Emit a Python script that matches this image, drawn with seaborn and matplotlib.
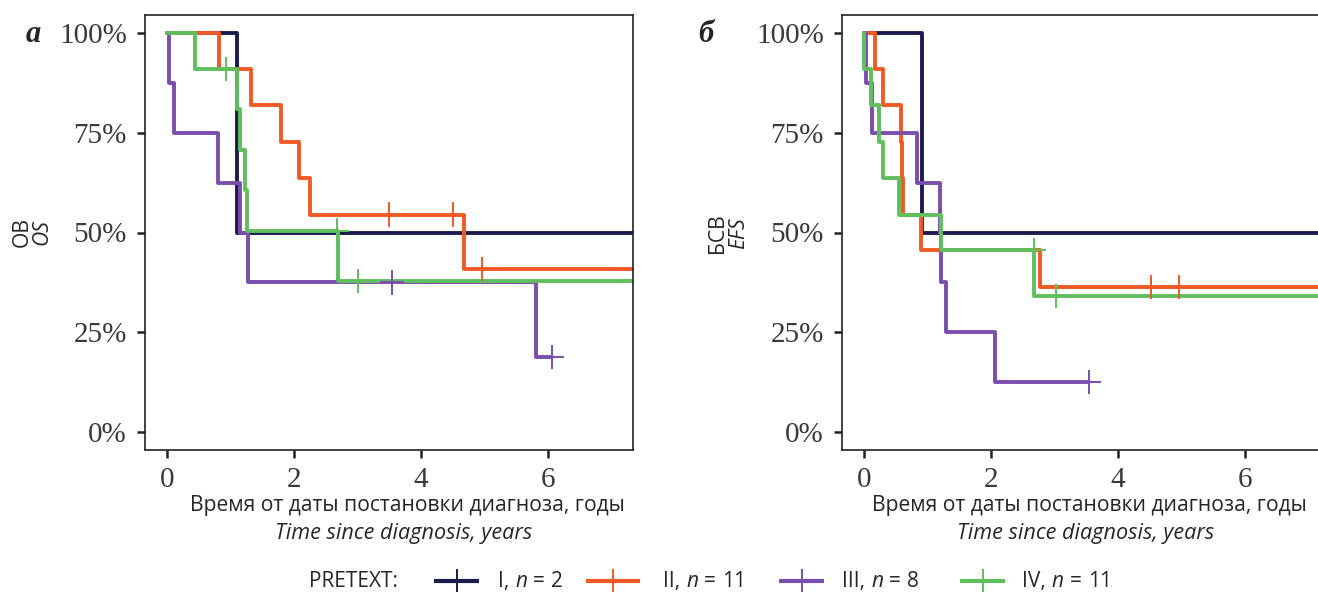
import matplotlib
matplotlib.use("Agg")
import matplotlib.pyplot as plt
from matplotlib.lines import Line2D
import pandas as pd
import seaborn as sns

groups = ["I", "II", "III", "IV"]
group_n = [2, 11, 8, 11]
colors = ["#1c1b4f", "#f05a24", "#7b4eae", "#5ebf5c"]

# overall survival (ОВ / OS): step points, time in years, survival in %
os_group = ["I"] * 3 + ["II"] * 8 + ["III"] * 8 + ["IV"] * 8
os_time = [0, 1.10, 7.6,
           0, 0.83, 1.33, 1.79, 2.08, 2.25, 4.68, 7.6,
           0, 0.03, 0.12, 0.81, 1.15, 1.28, 5.81, 6.06,
           0, 0.44, 1.10, 1.15, 1.23, 1.26, 2.69, 7.6]
os_surv = [100, 50, 50,
           100, 90.9, 81.8, 72.7, 63.6, 54.5, 40.9, 40.9,
           100, 87.5, 75, 62.5, 50, 37.5, 18.75, 18.75,
           100, 90.9, 80.8, 70.7, 60.6, 50.5, 37.9, 37.9]
# censored observations
os_cens_group = ["II", "II", "II", "III", "III", "IV", "IV", "IV"]
os_cens_time = [3.49, 4.50, 4.95, 3.54, 6.06, 0.93, 2.67, 3.01]
os_cens_surv = [54.5, 54.5, 40.9, 37.5, 18.75, 90.9, 50.5, 37.9]

# event-free survival (БСВ / EFS)
efs_group = ["I"] * 3 + ["II"] * 9 + ["III"] * 9 + ["IV"] * 9
efs_time = [0, 0.915, 7.6,
            0, 0.18, 0.30, 0.585, 0.60, 0.62, 0.90, 2.77, 7.6,
            0, 0.036, 0.125, 0.84, 1.20, 1.22, 1.29, 2.07, 3.54,
            0, 0.01, 0.11, 0.235, 0.31, 0.56, 1.21, 2.68, 7.6]
efs_surv = [100, 50, 50,
            100, 90.9, 81.8, 72.7, 63.6, 54.5, 45.5, 36.4, 36.4,
            100, 87.5, 75, 62.5, 50, 37.5, 25, 12.5, 12.5,
            100, 90.9, 81.8, 72.7, 63.6, 54.5, 45.5, 34.1, 34.1]
efs_cens_group = ["II", "II", "III", "IV", "IV"]
efs_cens_time = [4.51, 4.95, 3.54, 2.67, 3.02]
efs_cens_surv = [36.4, 36.4, 12.5, 45.5, 34.1]

yticks = [0, 25, 50, 75, 100]
ytick_labels = ["0%", "25%", "50%", "75%", "100%"]
xticks = [0, 2, 4, 6]

sns.set_theme(style="ticks")
plt.rcParams["font.family"] = ["Open Sans", "DejaVu Sans"]

SANS = 15.2
SANS_IT = 15.6
LEG = 15
SERIF = 21


def km_panel(ax, group, time, surv, c_group, c_time, c_surv, xmax):
    df = pd.DataFrame({"group": group, "time": time, "surv": surv})
    cdf = pd.DataFrame({"group": c_group, "time": c_time, "surv": c_surv})
    sns.lineplot(data=df, x="time", y="surv", hue="group", hue_order=groups,
                 palette=colors, estimator=None, drawstyle="steps-post",
                 linewidth=2.8, legend=False, ax=ax)
    sns.scatterplot(data=cdf, x="time", y="surv", hue="group", hue_order=groups,
                    palette=colors, marker="+", s=300, linewidth=1.4,
                    legend=False, ax=ax, zorder=4)
    ax.set_xlim(-0.34, xmax)
    ax.set_ylim(-4.4, 104.4)
    ax.set_yticks(yticks)
    ax.set_yticklabels(ytick_labels, family="Liberation Serif", fontsize=SERIF, color="#3a3a3a")
    ax.set_xticks(xticks)
    ax.set_xticklabels([str(t) for t in xticks], family="Liberation Serif", fontsize=SERIF, color="#3a3a3a")
    ax.tick_params(length=6, width=1.8, color="#222222", pad=6)
    ax.tick_params(axis="y", pad=7)
    ax.set_xlabel("")
    ax.set_ylabel("")
    for sp in ax.spines.values():
        sp.set_linewidth(1.2)
        sp.set_color("#222222")


fig = plt.figure(figsize=(13.18, 5.92), dpi=100)
W, H = 1318.0, 592.0

ax1 = fig.add_axes([145 / W, 1 - 450 / H, 488 / W, 435 / H])
km_panel(ax1, os_group, os_time, os_surv, os_cens_group, os_cens_time, os_cens_surv, 7.33)

ax2 = fig.add_axes([842 / W, 1 - 450 / H, 488 / W, 435 / H])
km_panel(ax2, efs_group, efs_time, efs_surv, efs_cens_group, efs_cens_time, efs_cens_surv, 7.33)

# panel letters
fig.text(33 / W, 1 - 35 / H, "а", family="Liberation Serif", fontsize=22,
         fontweight="bold", style="italic", ha="center", va="center")
fig.text(706 / W, 1 - 35 / H, "б", family="Liberation Serif", fontsize=22,
         fontweight="bold", style="italic", ha="center", va="center")

# y axis titles
fig.text(22 / W, 1 - 232 / H, "ОВ", fontsize=SANS, rotation=90, ha="center", va="center")
fig.text(42 / W, 1 - 232 / H, "OS", fontsize=SANS, style="italic", rotation=90, ha="center", va="center")
fig.text(718 / W, 1 - 233 / H, "БСВ", fontsize=SANS, rotation=90, ha="center", va="center")
fig.text(739 / W, 1 - 233 / H, "EFS", fontsize=SANS, style="italic", rotation=90, ha="center", va="center")

# x axis titles
for cx in (407, 1089):
    fig.text(cx / W, 1 - 506 / H, "Время от даты постановки диагноза, годы",
             fontsize=SANS, ha="center", va="center")
    fig.text((cx - 3) / W, 1 - 534 / H, "Time since diagnosis, years",
             fontsize=SANS_IT, style="italic", ha="center", va="center")

# legend, drawn piece by piece so that only "n" is italic
renderer = fig.canvas.get_renderer()
leg_base = 1 - 587 / H
leg_mid = 1 - 581 / H
fig.text(398 / W, leg_base, "PRETEXT:", fontsize=LEG, ha="right", va="baseline")
handle_x = [(434, 479), (586, 640), (779, 824), (960, 1005)]
label_x = [498, 663, 842, 1022]
for (h0, h1), lx, g, n, c in zip(handle_x, label_x, groups, group_n, colors):
    fig.add_artist(Line2D([h0 / W, h1 / W], [leg_mid, leg_mid], transform=fig.transFigure,
                          color=c, linewidth=3.0, solid_capstyle="butt"))
    fig.add_artist(Line2D([(h0 + h1) / 2 / W], [leg_mid], transform=fig.transFigure,
                          color=c, marker="+", markersize=17, markeredgewidth=1.4))
    x = lx
    for txt, st in ((g + ",", "normal"), ("n", "italic"), ("=", "normal"), (str(n), "normal")):
        t = fig.text(x / W, leg_base, txt, fontsize=LEG, style=st, ha="left", va="baseline")
        x += t.get_window_extent(renderer=renderer).width + 6

fig.savefig("out.png", dpi=100)
